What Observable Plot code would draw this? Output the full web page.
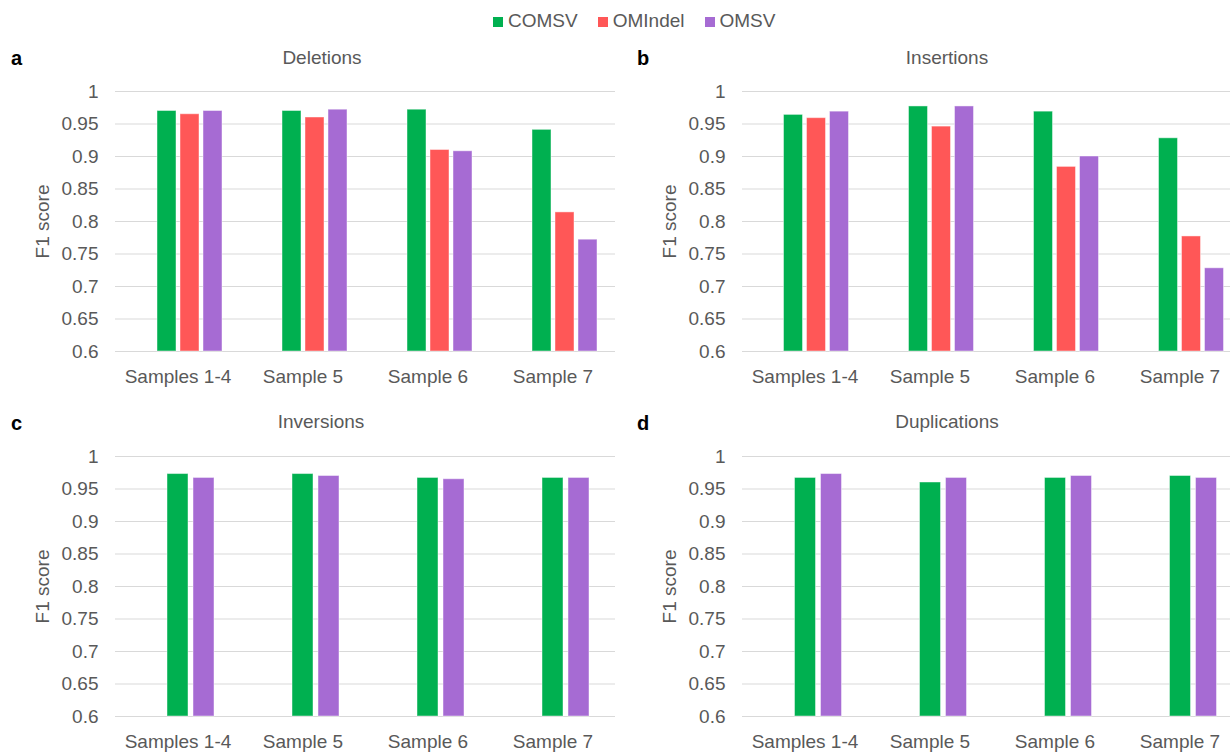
<!DOCTYPE html>
<html>
<head>
<meta charset="utf-8">
<script src="https://cdn.jsdelivr.net/npm/d3@7"></script>
<script src="https://cdn.jsdelivr.net/npm/@observablehq/plot@0.6"></script>
<style>
  html, body { margin: 0; padding: 0; background: #fff; overflow: hidden; }
  body { width: 1230px; height: 752px; position: relative; font-family: "Liberation Sans", Arial, sans-serif; color: #595959; }
  .abs { position: absolute; white-space: nowrap; line-height: 19px; font-size: 19px; }
  .letter { font-weight: bold; color: #000; font-size: 20px; }
  .title { transform: translateX(-50%); }
  .panel { position: absolute; width: 615px; overflow: hidden; }
  .panel svg { max-width: none !important; display: block; }
  .legend { position: absolute; left: 493px; top: 11px; display: flex; align-items: baseline; font-size: 19px; line-height: 19px; }
  .legend .sw { display: inline-block; width: 10px; height: 10px; margin-right: 5px; }
  .legend .item { display: flex; align-items: baseline; margin-right: 20px; }
</style>
</head>
<body>
<div id="root"></div>
<script>
// Categories and series
const samples = ["Samples 1-4", "Sample 5", "Sample 6", "Sample 7"];
const series = ["COMSV", "OMIndel", "OMSV"];
const seriesColors = ["#00b050", "#ff5757", "#a66bd3"];
const yTicks = [0.6, 0.65, 0.7, 0.75, 0.8, 0.85, 0.9, 0.95, 1];

// F1 scores: Deletions
const delCOMSV   = [0.970, 0.970, 0.972, 0.941];
const delOMIndel = [0.965, 0.960, 0.910, 0.814];
const delOMSV    = [0.970, 0.972, 0.908, 0.772];

// F1 scores: Insertions
const insCOMSV   = [0.964, 0.977, 0.969, 0.928];
const insOMIndel = [0.959, 0.946, 0.884, 0.777];
const insOMSV    = [0.969, 0.977, 0.900, 0.728];

// F1 scores: Inversions
const invCOMSV = [0.973, 0.973, 0.967, 0.967];
const invOMSV  = [0.967, 0.970, 0.965, 0.967];

// F1 scores: Duplications
const dupCOMSV = [0.967, 0.960, 0.967, 0.970];
const dupOMSV  = [0.973, 0.967, 0.970, 0.967];

function addText(cls, text, left, top) {
  const d = document.createElement("div");
  d.className = "abs " + cls;
  d.textContent = text;
  d.style.left = left + "px";
  d.style.top = top + "px";
  document.body.appendChild(d);
}

// Legend
const legend = document.createElement("div");
legend.className = "legend";
series.forEach((s, i) => {
  const item = document.createElement("span");
  item.className = "item";
  const sw = document.createElement("span");
  sw.className = "sw";
  sw.style.background = seriesColors[i];
  const lab = document.createElement("span");
  lab.textContent = s;
  item.appendChild(sw);
  item.appendChild(lab);
  legend.appendChild(item);
});
document.body.appendChild(legend);

function rowsOf(list) {
  const rows = [];
  for (const [name, vals] of list) {
    vals.forEach((v, i) => rows.push({sample: samples[i], series: name, value: v}));
  }
  return rows;
}

function panel({list, slots, padInner, padOuter, left, top, marginLeft}) {
  const rows = rowsOf(list);
  const chart = Plot.plot({
    width: marginLeft + 502,
    height: 321,
    marginLeft,
    marginRight: 0,
    marginTop: 21,
    marginBottom: 40,
    style: {fontFamily: "'Liberation Sans', Arial, sans-serif", fontSize: "19px", color: "#595959", background: "transparent", maxWidth: "none"},
    fx: {domain: samples, padding: 0, label: null, tickSize: 0, tickPadding: 18, axis: "bottom"},
    x: {domain: slots, paddingInner: padInner, paddingOuter: padOuter, axis: null},
    y: {domain: [0.6, 1], ticks: yTicks, tickFormat: d3.format("~g"), tickSize: 0, tickPadding: 17,
        label: "F1 score", labelAnchor: "center", labelOffset: 80, labelArrow: "none"},
    color: {domain: series, range: seriesColors},
    marks: [
      Plot.gridY(yTicks, {stroke: "#d9d9d9", strokeOpacity: 1, strokeWidth: 1}),
      Plot.barY(rows, {fx: "sample", x: "series", y1: 0.6, y2: "value", fill: "series",
                       stroke: "#ffffff", strokeOpacity: 0.45, strokeWidth: 1})
    ]
  });
  const wrap = document.createElement("div");
  wrap.className = "panel";
  wrap.style.left = left + "px";
  wrap.style.top = top + "px";
  wrap.appendChild(chart);
  document.body.appendChild(wrap);
}

const topY = 70, botY = 435;

panel({list: [["COMSV", delCOMSV], ["OMIndel", delOMIndel], ["OMSV", delOMSV]],
       slots: ["", "COMSV", "OMIndel", "OMSV"], padInner: 0.19, padOuter: 0.765,
       left: 0, top: topY, marginLeft: 114});
panel({list: [["COMSV", insCOMSV], ["OMIndel", insOMIndel], ["OMSV", insOMSV]],
       slots: ["", "COMSV", "OMIndel", "OMSV"], padInner: 0.19, padOuter: 0.765,
       left: 615, top: topY, marginLeft: 125.5});
panel({list: [["COMSV", invCOMSV], ["OMSV", invOMSV]],
       slots: ["", "COMSV", "OMSV"], padInner: 0.2, padOuter: 0.924,
       left: 0, top: botY, marginLeft: 114});
panel({list: [["COMSV", dupCOMSV], ["OMSV", dupOMSV]],
       slots: ["", "COMSV", "OMSV"], padInner: 0.2, padOuter: 0.924,
       left: 615, top: botY, marginLeft: 125.5});

// Panel letters and titles
addText("letter", "a", 11, 49);
addText("letter", "b", 637, 49);
addText("letter", "c", 11, 414);
addText("letter", "d", 637, 414);
addText("title", "Deletions", 322, 48);
addText("title", "Insertions", 947, 48);
addText("title", "Inversions", 321, 412);
addText("title", "Duplications", 947, 412);
</script>
</body>
</html>
